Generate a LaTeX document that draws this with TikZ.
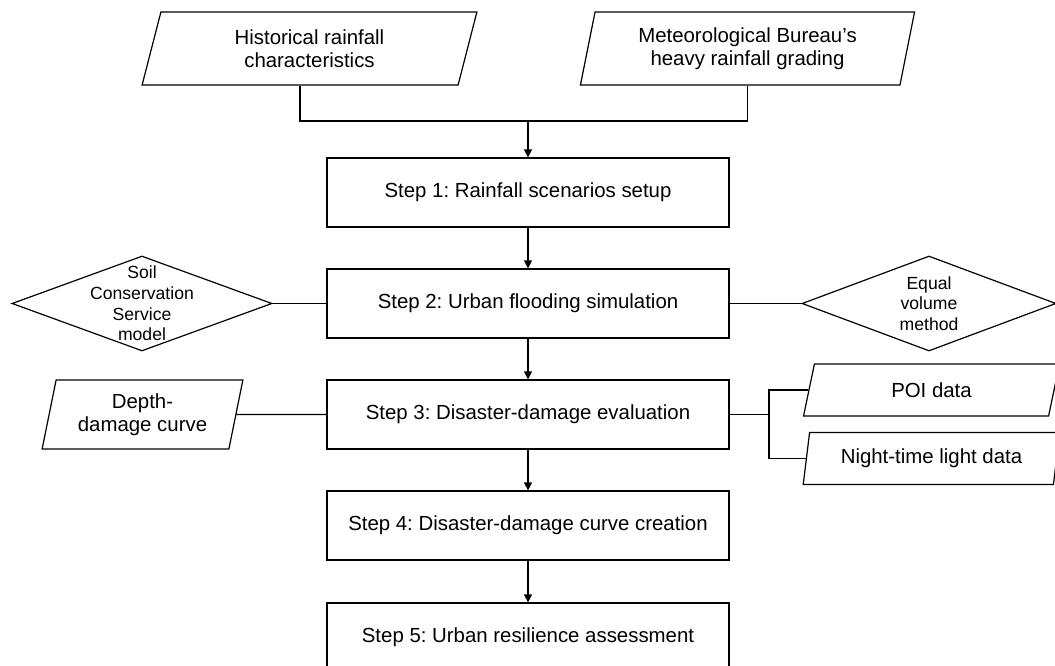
\documentclass[tikz,border=0pt]{standalone}
\usepackage{fontspec}
\setmainfont{Liberation Sans}
\frenchspacing
\usetikzlibrary{shapes.geometric,arrows.meta,calc}

\tikzset{
  stepbox/.style={draw,line width=0.9pt,minimum width=301.5pt,minimum height=51.75pt,
    font=\fontsize{15.3}{17.25}\selectfont},
  databox/.style={draw,line width=0.9pt,trapezium,trapezium left angle=76,trapezium right angle=104,
    trapezium stretches=true,align=center,inner sep=0pt,font=\fontsize{15.3}{17.25}\selectfont},
  decision/.style={draw,line width=0.9pt,diamond,inner sep=0pt,minimum height=71.25pt},
  flow/.style={line width=0.9pt,-{Triangle[length=6pt,width=6pt]}},
  link/.style={line width=0.9pt}
}

\begin{document}
\begin{tikzpicture}[x=0.75pt,y=-0.75pt]
    \clip (0,0) rectangle (1055,666);

    %Inputs
    \node[databox,minimum width=251.25pt,minimum height=54.75pt] (hist) at (309.5,48.5) {Historical rainfall\\characteristics};
    \node[databox,minimum width=251.25pt,minimum height=54.75pt] (met) at (747.5,48.5) {Meteorological Bureau’s\\heavy rainfall grading};
    \coordinate (join) at (528,121);
    \draw[link] ($(hist.bottom left corner)!0.5!(hist.bottom right corner)$) |- (join) -| (met.south);

    %Steps
    \node[stepbox] (s1) at (528,192.5) {Step 1: Rainfall scenarios setup};
    \node[stepbox] (s2) at (528,303.5) {Step 2: Urban flooding simulation};
    \node[stepbox] (s3) at (528,414.5) {Step 3: Disaster-damage evaluation};
    \node[stepbox] (s4) at (528,525.5) {Step 4: Disaster-damage curve creation};
    \node[stepbox] (s5) at (528,637.5) {Step 5: Urban resilience assessment};
    \draw[flow] (join) -- (s1);
    \draw[flow] (s1) -- (s2);
    \draw[flow] (s2) -- (s3);
    \draw[flow] (s3) -- (s4);
    \draw[flow] (s4) -- (s5);

    %Models
    \node[decision,minimum width=195pt,
      label={[align=center,font=\fontsize{13.2}{15.4}\selectfont]center:Soil\\Conservation\\Service\\model}] (scs) at (142,303.5) {};
    \node[decision,minimum width=190.5pt,
      label={[align=center,font=\fontsize{13.2}{15.4}\selectfont]center:Equal\\volume\\method}] (eqv) at (929,303.5) {};
    \draw[link] (scs) -- (s2);
    \draw[link] (s2) -- (eqv);

    %Damage data
    \node[databox,minimum width=150.75pt,minimum height=51.75pt] (depth) at (142.5,414.5) {Depth-\\damage curve};
    \draw[link] (depth) -- (s3);
    \node[databox,minimum width=192.75pt,minimum height=39pt] (poi) at (931.5,390) {POI data};
    \node[databox,minimum width=192.75pt,minimum height=39pt] (night) at (931.5,458.5) {Night-time light data};
    \coordinate (fork) at (769,414.5);
    \draw[link] (s3) -- (fork);
    \draw[link] (fork) |- (poi);
    \draw[link] (fork) |- (night);
\end{tikzpicture}
\end{document}
